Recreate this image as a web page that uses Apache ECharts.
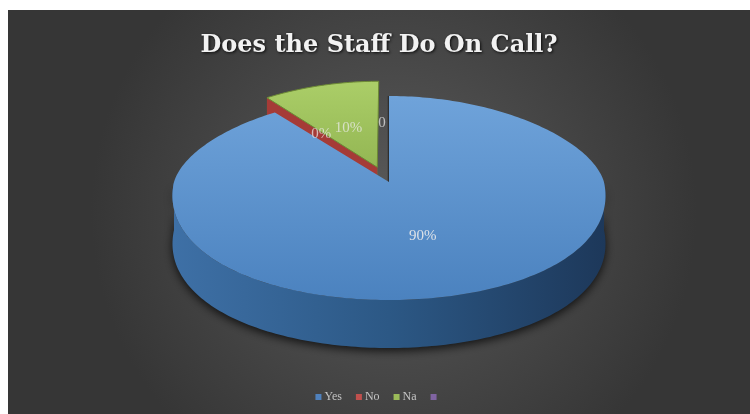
<!DOCTYPE html>
<html><head><meta charset="utf-8">
<script src="https://cdn.jsdelivr.net/npm/echarts@6/dist/echarts.min.js"></script>
<style>
html,body{margin:0;padding:0;background:#fff;width:750px;height:414px;overflow:hidden}
#c{position:absolute;left:8px;top:10px;width:742px;height:404px}
</style></head>
<body><div id="c"></div>
<script>
const categories = ['Yes', 'No', 'Na', ' '];
const values = [90, 0, 10, 0];
const labelTexts = ['90%', '0%', '10%', '0'];
const titleText = 'Does the Staff Do On Call?';

const colors = ['#4f81bd', '#c0504d', '#9bbb59', '#8064a2'];
const explode = [0, 0.18, 0.18, 0];
const labelExplode = [0, 0.18, 0.18, 0.2];
const G = {cx: 381, cy: 172, rx: 215, ryT: 86, ryB: 118, depth: 48, p: 0.12, labelR: 0.48};
const total = values.reduce((a, b) => a + b, 0);
const starts = [];
{ let c = 0; values.forEach(v => { starts.push(c / total * Math.PI * 2); c += v; }); }

function proj(wx, wz, h) {
  return [G.cx + G.rx * wx * (1 - G.p * wz), G.cy - (wz > 0 ? G.ryT : G.ryB) * wz + h];
}
function pt(theta, r, e, dir, h) {
  const wx = r * Math.sin(theta) + e * Math.sin(dir);
  const wz = r * Math.cos(theta) + e * Math.cos(dir);
  return proj(wx, wz, h);
}
function arc(a0, a1, e, dir, h) {
  const pts = [];
  const n = Math.max(2, Math.ceil(Math.abs(a1 - a0) / 0.02));
  for (let k = 0; k <= n; k++) pts.push(pt(a0 + (a1 - a0) * k / n, 1, e, dir, h));
  return pts;
}
function midOf(i) { return starts[i] + values[i] / total * Math.PI; }
const shade = {
  top: [['#6fa3da', '#4b82bf'], null, ['#abce68', '#93b653'], null],
  side: [['#3e70a6', '#2c5885', '#1d385a'], null, ['#7a9a40', '#5e7a2e'], null],
  face: ['#2f5a88', '#a53b37', '#6f8c38', '#2e2e2e']
};

function renderItem(params, api) {
  const i = params.dataIndex;
  const v = api.value(0);
  const a0 = starts[i], a1 = a0 + v / total * Math.PI * 2;
  const mid = (a0 + a1) / 2;
  // a zero-size slice moves together with the neighbouring exploded slice
  const dir = (v === 0 && i + 1 < values.length && values[i + 1] > 0) ? midOf(i + 1) : mid;
  const e = explode[i];
  const children = [];
  const c0 = pt(0, 0, e, dir, 0), c1 = pt(0, 0, e, dir, G.depth);
  if (Math.sin(a0) < -1e-6 || v === 0) {
    const r0 = pt(a0, 1, e, dir, 0), r1 = pt(a0, 1, e, dir, G.depth);
    const edgeOn = Math.abs(Math.sin(a0)) < 1e-6;
    children.push({type: 'polygon', z2: i === 1 ? 3 : 2,
      shape: {points: [c0, r0, r1, c1]},
      style: {fill: shade.face[i], stroke: edgeOn ? shade.face[i] : null, lineWidth: 2.5}});
  }
  if (Math.sin(a1) > 1e-6 && v > 0) {
    const r0 = pt(a1, 1, e, dir, 0), r1 = pt(a1, 1, e, dir, G.depth);
    children.push({type: 'polygon', z2: 2, shape: {points: [c0, r0, r1, c1]}, style: {fill: shade.face[i]}});
  }
  if (v > 0) {
    const s = Math.max(a0, Math.PI / 2), t = Math.min(a1, Math.PI * 1.5);
    if (t > s) {
      const pts = arc(s, t, e, dir, 0).concat(arc(s, t, e, dir, G.depth).reverse());
      const sc = shade.side[i];
      children.push({type: 'polygon', z2: 6, shape: {points: pts},
        style: {fill: {type: 'linear', x: 0, y: 0, x2: 1, y2: 0,
          colorStops: sc.map((c, k) => ({offset: k / (sc.length - 1), color: c}))},
          shadowBlur: 10, shadowColor: 'rgba(0,0,0,0.75)', shadowOffsetY: 3}});
    }
    const tp = [c0].concat(arc(a0, a1, e, dir, 0));
    const tc = shade.top[i];
    children.push({type: 'polygon', z2: i === 0 ? 8 : 4, shape: {points: tp},
      style: {fill: {type: 'linear', x: 0, y: 0, x2: 0, y2: 1,
        colorStops: [{offset: 0, color: tc[0]}, {offset: 1, color: tc[1]}]},
        stroke: i === 2 ? '#6d8a35' : null, lineWidth: 1}});
  }
  const lp = pt(mid, G.labelR, labelExplode[i], dir, 0);
  children.push({type: 'text', z2: 20,
    style: {text: labelTexts[i], x: lp[0] - (v === 0 && i === values.length - 1 ? 7 : 0), y: lp[1],
      align: 'center', verticalAlign: 'middle',
      fill: i === 0 ? 'rgba(235,235,235,0.9)' : 'rgba(235,235,235,0.72)',
      fontFamily: 'Liberation Serif', fontSize: 15}});
  return {type: 'group', children};
}

const chart = echarts.init(document.getElementById('c'), null, {renderer: 'canvas'});
chart.setOption({
  animation: false,
  backgroundColor: {type: 'radial', x: 0.52, y: 0.5, r: 0.75,
    colorStops: [{offset: 0, color: '#5a5a5a'}, {offset: 1, color: '#363636'}]},
  title: {text: titleText, left: 'center', top: 19,
    textStyle: {color: '#f2f2f2', fontFamily: 'DejaVu Serif', fontWeight: 'bold', fontSize: 24,
      textShadowColor: 'rgba(0,0,0,0.85)', textShadowBlur: 3, textShadowOffsetX: 1, textShadowOffsetY: 1}},
  legend: {bottom: 6, left: 'center', itemWidth: 6, itemHeight: 6, itemGap: 14, icon: 'rect',
    data: categories,
    textStyle: {color: '#c4c4c4', fontFamily: 'Liberation Serif', fontSize: 12, padding: [0, 0, 0, -2]}},
  series: [
    {type: 'pie', radius: [0, 0], center: [G.cx, G.cy], silent: true, label: {show: false},
      data: categories.map((n, i) => ({name: n, value: values[i], itemStyle: {color: colors[i]}}))},
    {type: 'custom', coordinateSystem: 'none', renderItem, silent: true,
      data: values.map(v => [v])}
  ]
});
</script></body></html>
